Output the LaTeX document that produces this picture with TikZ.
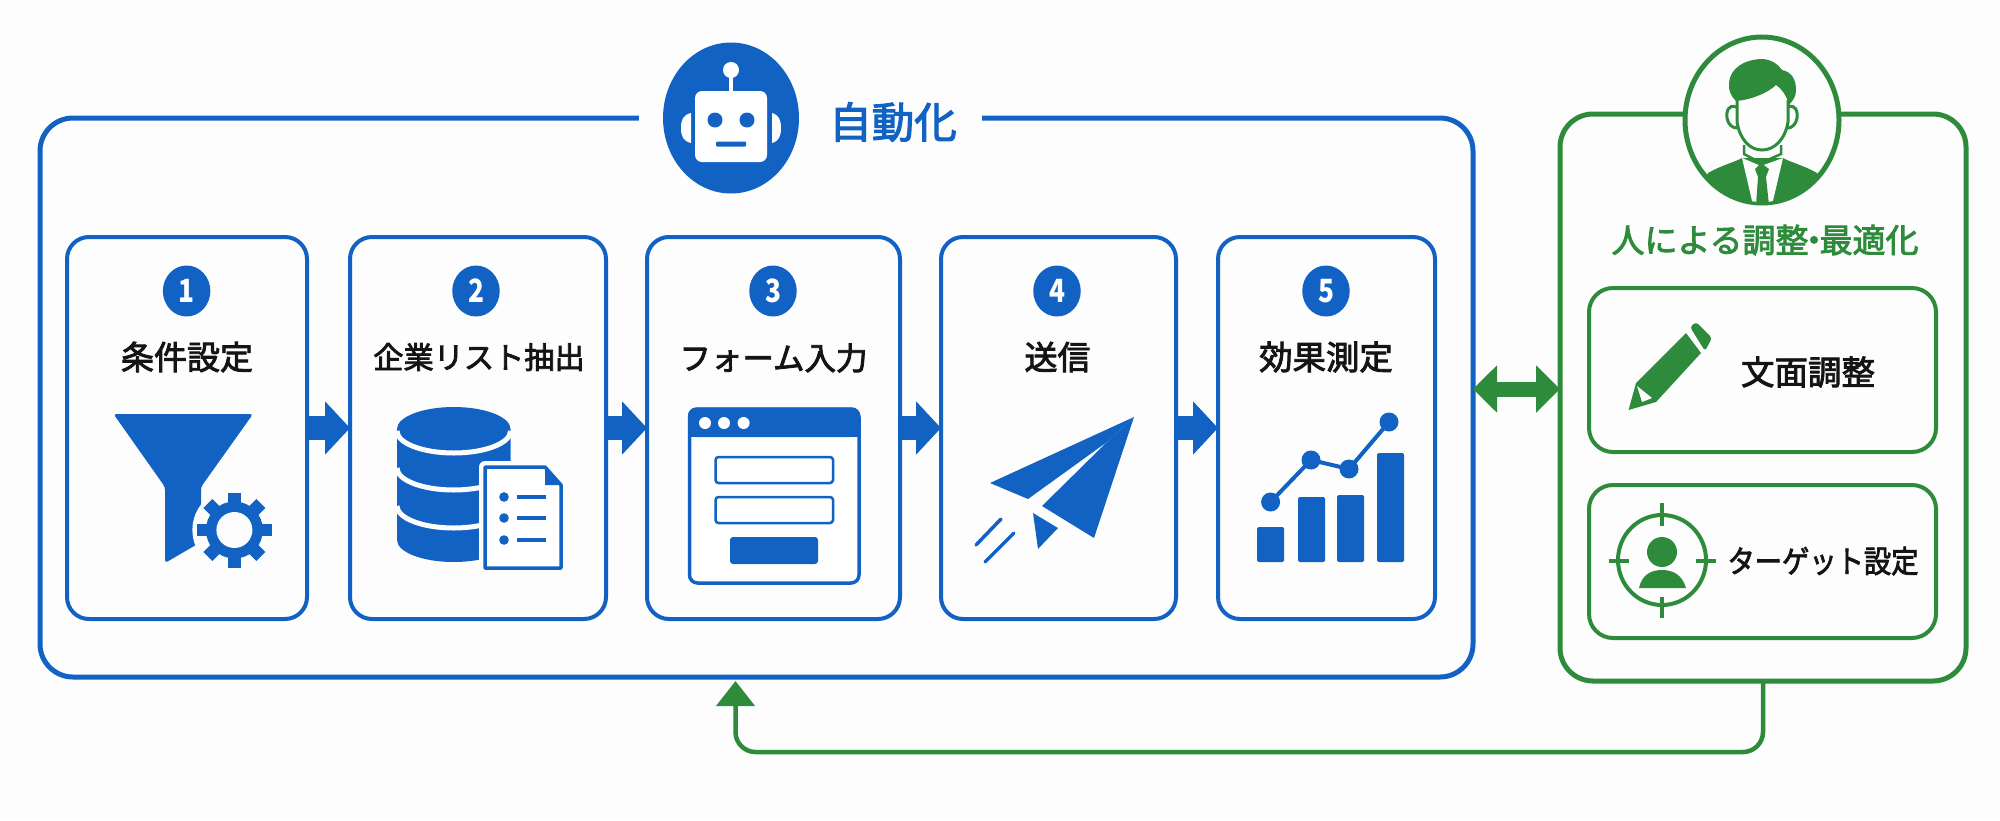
\documentclass[tikz,border=0pt]{standalone}
\usepackage{fontspec}
\setmainfont{Noto Sans CJK JP}
\newfontfamily\jpm[FakeBold=2.6]{Noto Sans CJK JP}
\usetikzlibrary{arrows.meta,shapes.geometric}
\definecolor{bl}{HTML}{1262C4}
\definecolor{gr}{HTML}{2E8B3C}
\definecolor{bgc}{HTML}{FDFDFD}
\definecolor{ink}{HTML}{141414}
\newcommand\fs[1]{\fontsize{#1}{#1}\selectfont}
\tikzset{
  outerbox/.style={draw=bl,line width=5pt,rounded corners=33pt,inner sep=0pt,outer sep=0pt},
  stepbox/.style={draw=bl,line width=4pt,rounded corners=22pt,inner sep=0pt,outer sep=0pt,minimum height=382pt},
  humanbox/.style={draw=gr,line width=5pt,rounded corners=33pt,inner sep=0pt,outer sep=0pt,minimum width=406pt,minimum height=567pt},
  taskbox/.style={draw=gr,line width=4pt,rounded corners=24pt,inner sep=0pt,outer sep=0pt,minimum width=347pt},
  numdot/.style={ellipse,fill=bl,text=white,font=\bfseries\fs{32},inner sep=0pt,minimum width=47.5pt,minimum height=51pt},
  steptext/.style={text=ink,inner sep=0pt},
  flow/.style={draw=bl,line width=24pt,-{Triangle[length=25pt,width=52pt]}},
  both/.style={draw=gr,line width=15pt,{Triangle[length=24pt,width=46pt]}-{Triangle[length=24pt,width=46pt]}},
  back/.style={draw=gr,line width=4.5pt,rounded corners=20pt,-{Triangle[length=25pt,width=38pt]}},
}
\newcommand\digit[1]{\scalebox{.82}[1]{#1}}
\begin{document}
\begin{tikzpicture}[x=1pt,y=-1pt]
\useasboundingbox (0,0) rectangle (2000,820);
\fill[bgc] (0,0) rectangle (2000,820);
% frames
\node[outerbox,minimum width=1433pt,minimum height=559pt] (auto) at (756.5,397.5) {};
\node[fill=bgc,inner sep=0pt,minimum width=343pt,minimum height=14pt] (gap) at (810.5,118) {};
\node[humanbox] (human) at (1763,397.5) {};
\node[stepbox,minimum width=240pt] (s1) at (187,428) {};
\node[stepbox,minimum width=256pt] (s2) at (478,428) {};
\node[stepbox,minimum width=253pt] (s3) at (773.5,428) {};
\node[stepbox,minimum width=235pt] (s4) at (1058.5,428) {};
\node[stepbox,minimum width=217pt] (s5) at (1326.5,428) {};
\node[taskbox,minimum height=164pt] (t1) at (1762.5,370) {};
\node[taskbox,minimum height=153pt] (t2) at (1762.5,561.5) {};
% connectors
\draw[flow] (s1.east) -- (s2.west);
\draw[flow] (s2.east) -- (s3.west);
\draw[flow] (s3.east) -- (s4.west);
\draw[flow] (s4.east) -- (s5.west);
\coordinate (a1) at (auto.east |- 0,389);
\coordinate (a2) at (human.west |- 0,389);
\draw[both] (a1) -- (a2);
\coordinate (fbt) at (735.5,681);
\coordinate (fbc) at (735.5,752);
\draw[back] (human.south) -- (human.south |- fbc) -- (fbc) -- (fbt);
% robot
\node[ellipse,fill=bl,inner sep=0pt,minimum width=136pt,minimum height=151pt] (robot) at (731,118) {};
\fill[white,rounded corners=7pt] (695,91) rectangle (767,162);
\draw[white,line width=3.5pt] (731,70) -- (731,92);
\fill[white] (731,70) circle [radius=8];
\fill[bl] (715,120) circle [radius=7.5];
\fill[bl] (747,120) circle [radius=7.5];
\fill[bl,rounded corners=1pt] (716,141.5) rectangle (746,146.5);
\fill[white] (691,113) .. controls (683,115) and (681,120) .. (681,128) .. controls (681,136) and (683,141) .. (691,143) -- cycle;
\fill[white] (772,113) .. controls (779,115) and (781,120) .. (781,128) .. controls (781,136) and (779,141) .. (772,143) -- cycle;
\node[text=bl,font=\jpm\fs{42.5},inner sep=0pt] (autotitle) at (893,122) {自動化};
% step 1
\node[numdot] (n1) at (186.6,291) {\digit{1}};
\node[steptext,font=\jpm\fs{33}] (l1) at (187,357) {条件設定};
\fill[bl,rounded corners=3pt] (113.5,414) -- (253,414) -- (201,487) -- (201,542) -- (165,563) -- (165,487) -- cycle;
\fill[bgc] (234.4,530) circle [radius=42];
\foreach \a in {0,45,...,315}{
  \fill[bl,rotate around={\a:(234.4,530)}] (228,492.5) rectangle (240.8,515);
}
\fill[bl] (234.4,530) circle [radius=28.5];
\fill[bgc] (234.4,530) circle [radius=18];
% step 2
\node[numdot] (n2) at (476,291) {\digit{2}};
\node[steptext,font=\jpm\fs{30.2}] (l2) at (479,357) {企業リスト抽出};
\fill[bl] (397,429) -- (397,540) arc[start angle=180,end angle=0,x radius=56.75,y radius=22] -- (510.5,429) arc[start angle=0,end angle=-180,x radius=56.75,y radius=22] -- cycle;
\draw[bgc,line width=5pt] (397,431) arc[start angle=180,end angle=0,x radius=56.75,y radius=22];
\draw[bgc,line width=5pt] (397,468) arc[start angle=180,end angle=0,x radius=56.75,y radius=22];
\draw[bgc,line width=5pt] (397,506) arc[start angle=180,end angle=0,x radius=56.75,y radius=22];
\draw[bgc,line width=12pt,fill=bgc,line join=round] (485,467) -- (545,467) -- (561,485) -- (561,568) -- (485,568) -- cycle;
\draw[bl,line width=3.5pt,fill=white,line join=round] (485,467) -- (545,467) -- (561,485) -- (561,568) -- (485,568) -- cycle;
\fill[bl] (545,467) -- (561,485) -- (545,485) -- cycle;
\foreach \y in {497,518,540}{
  \fill[bl] (504,\y) circle [radius=4.8];
  \fill[bl] (517,\y-2) rectangle (546,\y+2);
}
% step 3
\node[numdot] (n3) at (773,291) {\digit{3}};
\node[steptext,font=\jpm\fs{31.5}] (l3) at (773.5,358) {フォーム入力};
\draw[bl,line width=3.5pt,fill=white,rounded corners=8pt] (689.5,409) rectangle (859,583);
\fill[bl,rounded corners=8pt] (688,407.5) -- (860,407.5) -- (860,437) -- (688,437) -- cycle;
\fill[bl] (688,425) rectangle (860,437);
\foreach \x in {705,724,743.6}{\fill[white] (\x,423) circle [radius=6];}
\draw[bl,line width=2.5pt,rounded corners=3pt] (715.5,457) rectangle (833,483);
\draw[bl,line width=2.5pt,rounded corners=3pt] (715.5,497) rectangle (833,523);
\fill[bl,rounded corners=3pt] (730,537) rectangle (818,564);
% step 4
\node[numdot] (n4) at (1057,291) {\digit{4}};
\node[steptext,font=\jpm\fs{33}] (l4) at (1057.5,357) {送信};
\fill[bl] (1134,417) -- (990,483) -- (1028,499) -- (1107,442) -- cycle;
\fill[bl] (1134,417) -- (1107,442) -- (1042,506) -- (1094,538) -- cycle;
\fill[bl] (1033,513) -- (1058,528) -- (1038,549) -- cycle;
\draw[bl,line width=3.5pt,line cap=round] (1001,519) -- (976,545);
\draw[bl,line width=3.5pt,line cap=round] (1014,533) -- (985,562);
% step 5
\node[numdot] (n5) at (1326,291) {\digit{5}};
\node[steptext,font=\jpm\fs{33.4}] (l5) at (1326,357) {効果測定};
\fill[bl,rounded corners=1.5pt] (1257,527) rectangle (1284,562);
\fill[bl,rounded corners=1.5pt] (1298,497) rectangle (1325,562);
\fill[bl,rounded corners=1.5pt] (1337,495) rectangle (1364,562);
\fill[bl,rounded corners=1.5pt] (1377,453) rectangle (1404,562);
\draw[bl,line width=4pt] (1270.6,502) -- (1311,460) -- (1349,469) -- (1389,422);
\foreach \p in {(1270.6,502),(1311,460),(1349,469),(1389,422)}{\fill[bl] \p circle [radius=9.5];}
% human badge
\node[ellipse,draw=gr,line width=5pt,fill=bgc,inner sep=0pt,minimum width=154pt,minimum height=166pt] (person) at (1762,120) {};
\begin{scope}
\clip (1762,120) ellipse [x radius=76,y radius=82];
\fill[gr] (1708,173) .. controls (1722,165) and (1735,162) .. (1742,158) -- (1783,158) .. controls (1790,162) and (1805,166) .. (1817,173) -- (1840,210) -- (1690,210) -- cycle;
\fill[bgc] (1742,158) -- (1753,205) -- (1772,205) -- (1783,158) -- (1761,166) -- cycle;
\fill[gr] (1755,169) -- (1761,163) -- (1769,169) -- (1766,177) -- (1758,177) -- cycle;
\fill[gr] (1758,177) -- (1766,177) -- (1769,205) -- (1756,205) -- cycle;
\draw[gr,line width=2.5pt] (1744,140) -- (1744,154) -- (1761,163) -- (1781,154) -- (1781,140);
\end{scope}
\fill[bgc] (1738,100) rectangle (1786,145);
\draw[gr,line width=3pt] (1737,100) -- (1737,122) .. controls (1740,140) and (1750,150) .. (1762,150) .. controls (1774,150) and (1785,140) .. (1788,122) -- (1788,100);
\draw[gr,line width=3pt] (1736,107) .. controls (1728,104) and (1726,112) .. (1727,118) .. controls (1728,125) and (1733,128) .. (1737,128);
\draw[gr,line width=3pt] (1788,107) .. controls (1796,104) and (1798,112) .. (1797,118) .. controls (1796,125) and (1791,128) .. (1788,128);
\fill[gr] (1736,101) .. controls (1730,95) and (1728.5,90) .. (1729,83) .. controls (1730,68) and (1745,59) .. (1763,59) .. controls (1772,60) and (1778,64) .. (1782,70) .. controls (1792,72) and (1796,80) .. (1796,90) .. controls (1796,97) and (1793,100) .. (1789,105) .. controls (1787,97) and (1783,90) .. (1776,85) .. controls (1768,93) and (1750,100) .. (1736,101) -- cycle;
\node[text=gr,font=\jpm\fs{33},inner sep=0pt] (humantitle) at (1765,240) {人による調整\kern-11pt・\kern-11pt最適化};
% task 1
\fill[gr] (1686,333) -- (1701,353) -- (1656,402) -- (1628.6,410) -- (1636,383) -- cycle;
\fill[white] (1637,386) -- (1652,398) -- (1642,402) -- cycle;
\fill[gr,rounded corners=3pt] (1690,327) -- (1696,322) -- (1712,338) -- (1705,351) -- cycle;
\node[text=ink,font=\jpm\fs{33.5},inner sep=0pt] (t1text) at (1808,372) {文面調整};
% task 2
\draw[gr,line width=4pt] (1662,560) ellipse [x radius=44,y radius=45];
\draw[gr,line width=4pt] (1608.6,560.5) -- (1628.6,560.5);
\draw[gr,line width=4pt] (1696,560.5) -- (1716,560.5);
\draw[gr,line width=4pt] (1662,503) -- (1662,526);
\draw[gr,line width=4pt] (1662,597) -- (1662,618);
\fill[gr] (1662,552) ellipse [x radius=15,y radius=15];
\fill[gr] (1639,588) .. controls (1642,574) and (1652,570) .. (1662,570) .. controls (1672,570) and (1682,574) .. (1686,588) -- cycle;
\node[text=ink,font=\jpm\fs{31},inner sep=0pt] (t2text) at (1823,561) {\scalebox{.88}[1]{ターゲット設定}};
\end{tikzpicture}
\end{document}
